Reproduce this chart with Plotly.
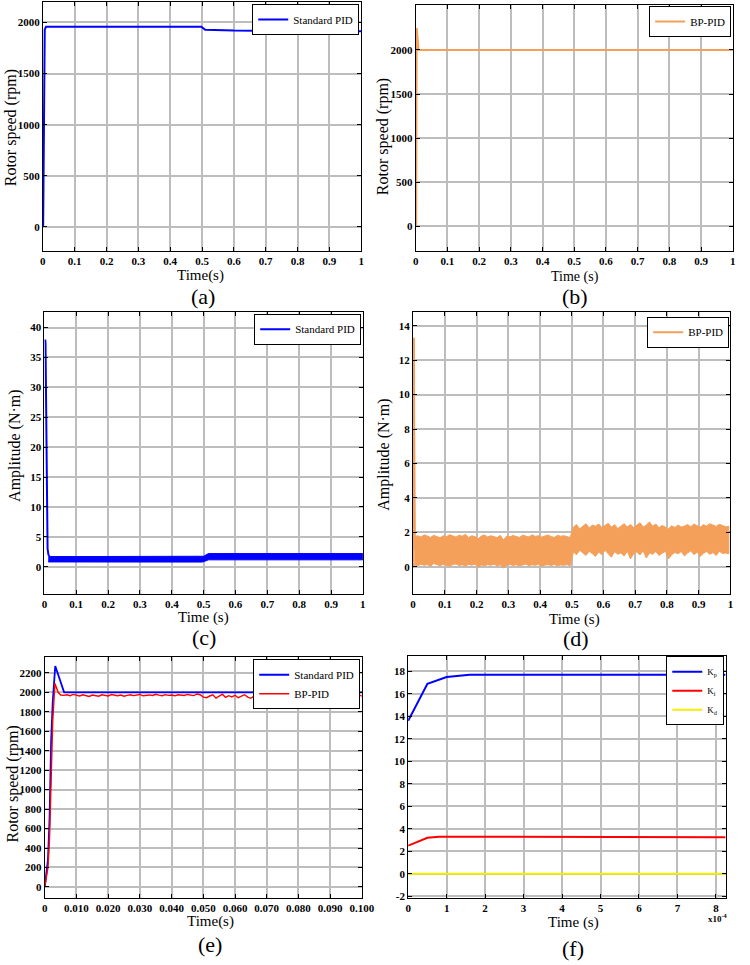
import numpy as np
import plotly.graph_objects as go

# ---------------- DATA ----------------
# (a) Standard PID rotor speed
t_a = [0.001, 0.002, 0.003, 0.004, 0.006, 0.010, 0.498, 0.51, 0.55, 0.6, 1.0]
speed_std = [0, 600, 1500, 1880, 1930, 1958, 1958, 1928, 1922, 1920, 1915]

# (b) BP-PID rotor speed
t_b = [0.0015, 0.0022, 0.003, 0.009, 1.0]
speed_bp = [0, 2100, 2250, 2000, 2000]

# (c) Standard PID torque: start spike + oscillation envelope
t_c_spike = [0.0025, 0.0035, 0.010, 0.013]
torque_std_spike = [38, 37.5, 3.0, 1.9]
t_c_band = [0.012, 0.02, 0.1, 0.2, 0.3, 0.4, 0.495, 0.5, 0.515, 0.6, 0.7, 0.8, 0.9, 1.0]
torque_std_upper = [2.0, 1.7, 1.7, 1.7, 1.7, 1.7, 1.7, 1.75, 2.2, 2.2, 2.2, 2.2, 2.2, 2.2]
torque_std_lower = [0.8, 0.78, 0.78, 0.78, 0.78, 0.78, 0.78, 0.85, 1.15, 1.15, 1.15, 1.15, 1.15, 1.15]

# (d) BP-PID torque: start spike + oscillation envelope
t_d_spike = [0.002, 0.0028, 0.0036, 0.006]
torque_bp_spike = [0, 13.3, 8.0, 1.0]
torque_bp_upper = [1.75, 1.80, 1.72, 1.85, 1.78, 1.70, 1.82, 1.76, 1.68, 1.80, 1.74, 1.86, 1.79, 1.72, 1.83, 1.77, 1.88, 1.70, 1.80, 1.75,
                   1.62, 1.78, 1.84, 1.73, 1.80, 1.76, 1.69, 1.82, 1.55, 1.78, 1.74, 1.81, 1.77, 1.70, 1.83, 1.79, 1.73, 1.85, 1.76, 1.80,
                   1.72, 1.78, 1.84, 1.75, 1.70, 1.82, 1.77, 1.80, 1.73, 1.70,
                   2.30, 2.45, 2.20, 2.38, 2.50, 2.25, 2.42, 2.35, 2.48, 2.28, 2.40, 2.52, 2.30, 2.44, 2.22, 2.36, 2.50, 2.32, 2.45, 2.28,
                   2.40, 2.55, 2.30, 2.42, 2.60, 2.35, 2.48, 2.26, 2.40, 2.32, 2.20, 2.38, 2.28, 2.42, 2.30, 2.36, 2.45, 2.32, 2.48, 2.38,
                   2.30, 2.44, 2.36, 2.50, 2.40, 2.34, 2.46, 2.38, 2.32, 2.35]
torque_bp_lower = [0.10, 0.05, 0.15, 0.08, 0.12, 0.02, 0.18, 0.10, 0.06, 0.14, 0.09, 0.03, 0.12, 0.16, 0.07, 0.11, 0.04, 0.13, 0.09, 0.15,
                   -0.05, 0.10, 0.06, 0.12, 0.08, 0.14, 0.05, 0.11, -0.08, 0.09, 0.13, 0.07, 0.12, 0.04, 0.10, 0.15, 0.06, 0.11, 0.08, 0.14,
                   0.03, 0.09, 0.12, 0.07, 0.13, 0.05, 0.10, 0.08, 0.12, 0.06,
                   0.85, 0.70, 0.95, 0.80, 0.65, 0.90, 0.75, 0.60, 0.85, 0.70, 0.95, 0.78, 0.55, 0.88, 0.72, 0.80, 0.62, 0.90, 0.45, 0.75,
                   0.85, 0.68, 0.92, 0.50, 0.80, 0.72, 0.88, 0.65, 0.78, 0.90, 0.45, 0.70, 0.82, 0.75, 0.88, 0.62, 0.80, 0.92, 0.70, 0.85,
                   0.60, 0.78, 0.88, 0.72, 0.82, 0.65, 0.90, 0.76, 0.80, 0.75]
t_d_band = np.linspace(0.005, 0.995, len(torque_bp_upper))

# (e) comparison of rotor speed (0 - 0.1 s)
t_e_std = [0, 0.0005, 0.001, 0.0015, 0.002, 0.0025, 0.0033, 0.0061, 0.1]
speed_e_std = [0, 120, 280, 700, 1500, 1900, 2270, 2000, 2000]
t_e_bp_start = [0, 0.0005, 0.001, 0.0015, 0.002, 0.0025, 0.0032, 0.0042]
speed_e_bp_start = [0, 100, 200, 500, 1100, 1700, 2090, 2000]
speed_e_bp_noise = [1972, 1968, 1975, 1965, 1978, 1970, 1962, 1975, 1969, 1958, 1972, 1966, 1960, 1974, 1968, 1963, 1977, 1970,
                    1965, 1972, 1960, 1968, 1975, 1966, 1971, 1978, 1964, 1970, 1973, 1967, 1980, 1971, 1965, 1976, 1969, 1972,
                    1964, 1975, 1970, 1967, 1978, 1972, 1966, 1983, 1975,
                    1950, 1945, 1962, 1975, 1940, 1958, 1980, 1948, 1965, 1952, 1970, 1944, 1960, 1975, 1950, 1938, 1962, 1955,
                    1970, 1948, 1965, 1972, 1958, 1950, 1968, 1975, 1955, 1945, 1962, 1970, 1948, 1958, 1942, 1966, 1955, 1972,
                    1950, 1940, 1960, 1968, 1952, 1945, 1962, 1956, 1940, 1965, 1950, 1958, 1944, 1975, 1960]
t_e_bp_noise = np.linspace(0.005, 0.100, len(speed_e_bp_noise))

# (f) BP-PID gains (time in seconds)
t_f_kp = [0, 0.5e-4, 1.0e-4, 1.6e-4, 8.25e-4]
kp = [13.6, 16.9, 17.5, 17.7, 17.7]
t_f_ki = [0, 0.5e-4, 0.8e-4, 6.5e-4, 8.25e-4]
ki = [2.5, 3.2, 3.3, 3.3, 3.25]
t_f_kd = [0, 8.25e-4]
kd = [0, 0]

# tick labels
x_ticks_1s = [0, 0.1, 0.2, 0.3, 0.4, 0.5, 0.6, 0.7, 0.8, 0.9, 1]
x_ticks_1s_text = ["0", "0.1", "0.2", "0.3", "0.4", "0.5", "0.6", "0.7", "0.8", "0.9", "1"]
x_ticks_e = [0, 0.01, 0.02, 0.03, 0.04, 0.05, 0.06, 0.07, 0.08, 0.09, 0.1]
x_ticks_e_text = ["0", "0.010", "0.020", "0.030", "0.040", "0.050", "0.060", "0.070", "0.080", "0.090", "0.100"]
x_ticks_f = [0, 1e-4, 2e-4, 3e-4, 4e-4, 5e-4, 6e-4, 7e-4, 8e-4]
x_ticks_f_text = ["0", "1", "2", "3", "4", "5", "6", "7", "8"]

# ---------------- FIGURE ----------------
W, H = 750, 965
SERIF = "Liberation Serif, Times New Roman, Times, serif"
BLUE = "#0000FF"
ORANGE = "#F4A05A"
RED = "#FF0000"
YELLOW = "#F2EE00"
GRID = "#BDBDBD"


def px(x):
    return x / W


def py(y):
    return 1 - y / H


fig = go.Figure()
layout = dict(width=W, height=H, margin=dict(l=0, r=0, t=0, b=0),
              paper_bgcolor="white", plot_bgcolor="white", showlegend=True,
              font=dict(family=SERIF, color="black"))

panels = {
    1: dict(x=(40.7, 366.0), y=(2, 252), xr=[0, 1], yr=[-235, 2200], xt=x_ticks_1s, xtt=x_ticks_1s_text,
            yt=[0, 500, 1000, 1500, 2000]),
    2: dict(x=(421.7, 745.7), y=(5, 252), xr=[0, 1], yr=[-280, 2510], xt=x_ticks_1s, xtt=x_ticks_1s_text,
            yt=[0, 500, 1000, 1500, 2000, 2500]),
    3: dict(x=(42.3, 367.7), y=(313.3, 596.7), xr=[0, 1], yr=[-4.6, 42.6], xt=x_ticks_1s, xtt=x_ticks_1s_text,
            yt=[0, 5, 10, 15, 20, 25, 30, 35, 40]),
    4: dict(x=(419.0, 743.3), y=(313.3, 596.7), xr=[0, 1], yr=[-1.6, 14.8], xt=x_ticks_1s, xtt=x_ticks_1s_text,
            yt=[0, 2, 4, 6, 8, 10, 12, 14]),
    5: dict(x=(42.7, 366.7), y=(660, 901.7), xr=[0, 0.1], yr=[-113, 2360], xt=x_ticks_e, xtt=x_ticks_e_text,
            yt=list(range(0, 2201, 200))),
    6: dict(x=(414.0, 738.3), y=(658.3, 901.7), xr=[0, 8.25e-4], yr=[-2.15, 19.4], xt=x_ticks_f, xtt=x_ticks_f_text,
            yt=list(range(-2, 19, 2))),
}

for n, p in panels.items():
    sfx = "" if n == 1 else str(n)
    common = dict(showgrid=True, gridcolor=GRID, gridwidth=1.6, showline=True, linecolor="black",
                  linewidth=1, mirror="ticks", ticks="inside", ticklen=4, tickcolor="black",
                  zeroline=False,
                  tickfont=dict(family=SERIF, size=11, color="black", weight="bold"))
    layout["xaxis" + sfx] = dict(domain=[px(p["x"][0]), px(p["x"][1])], range=p["xr"],
                                 anchor="y" + sfx, tickmode="array", tickvals=p["xt"], ticktext=p["xtt"], **common)
    layout["yaxis" + sfx] = dict(domain=[py(p["y"][1]), py(p["y"][0])], range=p["yr"],
                                 anchor="x" + sfx, tickmode="array", tickvals=p["yt"],
                                 ticktext=[str(v) for v in p["yt"]], **common)


def ax(n):
    s = "" if n == 1 else str(n)
    return "x" + s, "y" + s


def lg(n):
    return "legend" if n == 1 else "legend" + str(n)


# (a)
xa, ya = ax(1)
fig.add_trace(go.Scatter(x=t_a, y=speed_std, mode="lines", line=dict(color=BLUE, width=2),
                         name="Standard PID", xaxis=xa, yaxis=ya, legend=lg(1)))
# (b)
xa, ya = ax(2)
fig.add_trace(go.Scatter(x=t_b, y=speed_bp, mode="lines", line=dict(color=ORANGE, width=2),
                         name="BP-PID", xaxis=xa, yaxis=ya, legend=lg(2)))
# (c)
xa, ya = ax(3)
fig.add_trace(go.Scatter(x=list(t_c_band) + list(t_c_band)[::-1],
                         y=list(torque_std_upper) + list(torque_std_lower)[::-1],
                         mode="lines", fill="toself", fillcolor=BLUE, line=dict(color=BLUE, width=1),
                         showlegend=False, xaxis=xa, yaxis=ya, hoverinfo="skip"))
fig.add_trace(go.Scatter(x=t_c_spike, y=torque_std_spike, mode="lines", line=dict(color=BLUE, width=2),
                         name="Standard PID", xaxis=xa, yaxis=ya, legend=lg(3)))
# (d)
xa, ya = ax(4)
fig.add_trace(go.Scatter(x=list(t_d_band) + list(t_d_band)[::-1],
                         y=list(torque_bp_upper) + list(torque_bp_lower)[::-1],
                         mode="lines", fill="toself", fillcolor=ORANGE, line=dict(color=ORANGE, width=1),
                         showlegend=False, xaxis=xa, yaxis=ya, hoverinfo="skip"))
fig.add_trace(go.Scatter(x=t_d_spike, y=torque_bp_spike, mode="lines", line=dict(color=ORANGE, width=2),
                         name="BP-PID", xaxis=xa, yaxis=ya, legend=lg(4)))
# (e)
xa, ya = ax(5)
fig.add_trace(go.Scatter(x=t_e_std, y=speed_e_std, mode="lines", line=dict(color=BLUE, width=1.8),
                         name="Standard PID", xaxis=xa, yaxis=ya, legend=lg(5)))
fig.add_trace(go.Scatter(x=list(t_e_bp_start) + list(t_e_bp_noise),
                         y=list(speed_e_bp_start) + list(speed_e_bp_noise),
                         mode="lines", line=dict(color=RED, width=1.4),
                         name="BP-PID", xaxis=xa, yaxis=ya, legend=lg(5)))
# (f)
xa, ya = ax(6)
fig.add_trace(go.Scatter(x=t_f_kp, y=kp, mode="lines", line=dict(color=BLUE, width=2),
                         name="K<sub>p</sub>", xaxis=xa, yaxis=ya, legend=lg(6)))
fig.add_trace(go.Scatter(x=t_f_ki, y=ki, mode="lines", line=dict(color=RED, width=2),
                         name="K<sub>i</sub>", xaxis=xa, yaxis=ya, legend=lg(6)))
fig.add_trace(go.Scatter(x=t_f_kd, y=kd, mode="lines", line=dict(color=YELLOW, width=2),
                         name="K<sub>d</sub>", xaxis=xa, yaxis=ya, legend=lg(6)))

# legends
leg_common = dict(bgcolor="white", bordercolor="black", borderwidth=1, xanchor="right", yanchor="top",
                  font=dict(family=SERIF, size=11, color="black"), tracegroupgap=0, itemwidth=30)
legpos = {1: (364, 4), 2: (744, 6), 3: (366, 315), 4: (742, 318), 5: (365, 662), 6: (737, 659)}
for n, (lx, ly) in legpos.items():
    d = dict(leg_common)
    d["x"] = px(lx)
    d["y"] = py(ly)
    if n == 6:
        d["font"] = dict(family=SERIF, size=9, color="black")
    layout[lg(n)] = d

annotations = []


def ann(text, x, y, size, angle=0, weight="normal"):
    annotations.append(dict(text=text, x=px(x), y=py(y), xref="paper", yref="paper", showarrow=False,
                            xanchor="center", yanchor="middle", textangle=angle,
                            font=dict(family=SERIF, size=size, color="black", weight=weight)))


# y titles
ann("Rotor speed (rpm)", 9, 128, 16, -90)
ann("Rotor speed (rpm)", 389, 137, 16, -90)
ann("Amplitude (N·m)", 12, 448, 16, -90)
ann("Amplitude (N·m)", 389, 457, 16, -90)
ann("Rotor speed (rpm)", 10, 787, 16, -90)
# x titles
ann("Time(s)", 202, 277, 15)
ann("Time (s)", 584, 278, 14)
ann("Time (s)", 205, 620, 15)
ann("Time (s)", 584, 622, 15)
ann("Time(s)", 212, 925, 15)
ann("Time (s)", 583, 926, 15)
ann("x10<sup>-4</sup>", 731, 922, 9, 0, "bold")
# captions
ann("(a)", 204, 298, 22)
ann("(b)", 584, 298, 22)
ann("(c)", 205, 640, 22)
ann("(d)", 585, 641, 22)
ann("(e)", 212, 948, 22)
ann("(f)", 582, 952, 22)

layout["annotations"] = annotations
fig.update_layout(**layout)
fig.write_html("out.html")
